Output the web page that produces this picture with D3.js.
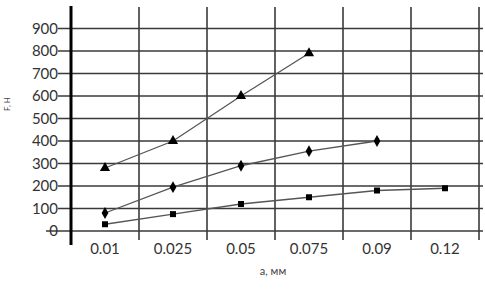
<!DOCTYPE html>
<html><head><meta charset="utf-8">
<script src="https://cdn.jsdelivr.net/npm/d3@7"></script>
<style>body{margin:0;background:#fff}svg{display:block}</style>
</head><body>
<script>
const categories = ["0.01","0.025","0.05","0.075","0.09","0.12"];
const triangleSeries = [280,400,600,790,null,null];
const diamondSeries = [80,195,290,355,400,null];
const squareSeries = [30,75,120,150,180,190];
const yTicks = [0,100,200,300,400,500,600,700,800,900];

const W=485,H=290;
const svg=d3.select("body").append("svg").attr("width",W).attr("height",H);
const x=d3.scaleBand().domain(categories).range([71,479]);
const y=d3.scaleLinear().domain([0,900]).range([231,28.5]);
const font="Lato, 'Open Sans', sans-serif";

// horizontal gridlines with left ticks
svg.append("g").selectAll("line").data(yTicks).join("line")
  .attr("x1",d=>d===0?46:58).attr("x2",483)
  .attr("y1",d=>y(d)).attr("y2",d=>y(d))
  .attr("stroke","#3a3a3a").attr("stroke-width",1.6);
// vertical gridlines
const vx=categories.map(c=>x(c)+x.bandwidth());
svg.append("g").selectAll("line").data(vx).join("line")
  .attr("x1",d=>d).attr("x2",d=>d).attr("y1",7).attr("y2",240)
  .attr("stroke","#3a3a3a").attr("stroke-width",1.6);
// y axis
svg.append("line").attr("x1",71).attr("x2",71).attr("y1",6).attr("y2",245)
  .attr("stroke","#000").attr("stroke-width",3);

// y tick labels
svg.append("g").selectAll("text").data(yTicks).join("text")
  .attr("x",58).attr("y",d=>y(d)+5).attr("text-anchor","end")
  .attr("font-family",font).attr("font-size",15).attr("fill","#333")
  .text(d=>d);
// x tick labels
svg.append("g").selectAll("text").data(categories).join("text")
  .attr("x",d=>x(d)+x.bandwidth()/2).attr("y",254).attr("text-anchor","middle")
  .attr("font-family",font).attr("font-size",15).attr("fill","#333")
  .text(d=>d);
// axis titles
svg.append("text").attr("x",273).attr("y",275).attr("text-anchor","middle")
  .attr("font-family",font).attr("font-size",11).attr("fill","#444").text("a, мм");
svg.append("text").attr("transform","translate(10,104) rotate(-90)").attr("text-anchor","middle")
  .attr("font-family",font).attr("font-size",8).attr("fill","#444").text("F, H");

const cx=(c)=>x(c)+x.bandwidth()/2;
const line=d3.line().defined(d=>d.v!=null).x(d=>cx(d.c)).y(d=>y(d.v));
const series=[
  {vals:triangleSeries,sym:d3.symbolTriangle,size:45},
  {vals:diamondSeries,sym:d3.symbolDiamond,size:40},
  {vals:squareSeries,sym:d3.symbolSquare,size:36}
];
series.forEach(s=>{
  const pts=categories.map((c,i)=>({c,v:s.vals[i]}));
  svg.append("path").datum(pts).attr("d",line).attr("fill","none")
    .attr("stroke","#555").attr("stroke-width",1.3);
  svg.append("g").selectAll("path").data(pts.filter(p=>p.v!=null)).join("path")
    .attr("d",d3.symbol().type(s.sym).size(s.size))
    .attr("transform",d=>`translate(${cx(d.c)},${y(d.v)})`).attr("fill","#000");
});
</script>
</body></html>
